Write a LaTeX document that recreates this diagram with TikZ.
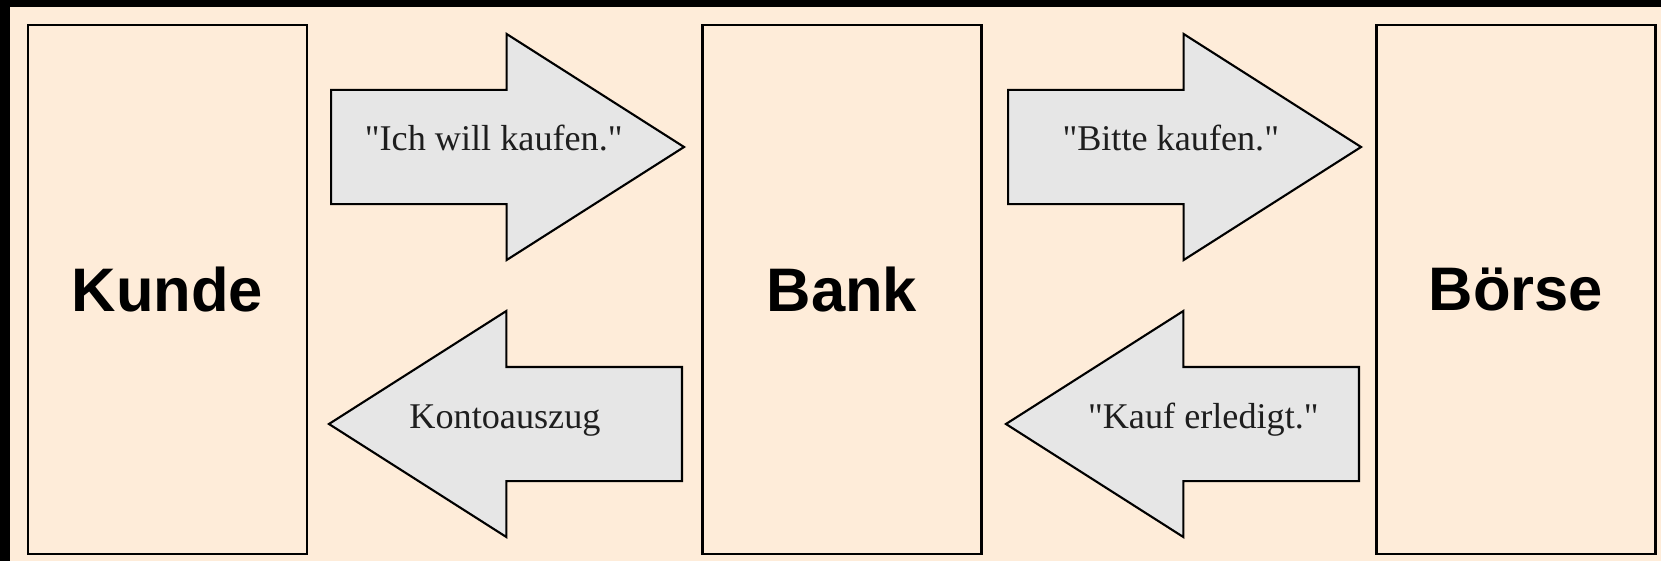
\documentclass[tikz,border=0pt]{standalone}
\usepackage{fontspec}
\setmainfont{Liberation Serif}
\setsansfont{Liberation Sans}
\usetikzlibrary{shapes.arrows,calc}

\definecolor{peach}{HTML}{FEECD9}
\definecolor{msggrey}{HTML}{E6E6E6}
\definecolor{ink}{HTML}{1E1E1E}

\tikzset{
    party/.style={draw, line width=1.2pt, rectangle, fill=peach,
        minimum width=5.58cm, minimum height=10.58cm,
        font=\sffamily\bfseries\fontsize{35}{40}\selectfont},
    msgarrow/.style={draw, line width=1.2pt, fill=msggrey, single arrow,
        single arrow head extend=1.12cm, single arrow tip angle=65,
        minimum height=7.06cm, inner xsep=0pt, inner ysep=1.12cm},
    msgtext/.style={anchor=base, text=ink, font=\fontsize{20.6}{24}\selectfont}
}
\newcommand{\qq}{\textquotedbl}

\begin{document}
\begin{tikzpicture}
    % Background
    \fill[peach] (0,0) rectangle (33.22,11.22);
    \fill[black] (0,11.08) rectangle (33.22,11.22);
    \fill[black] (0,0) rectangle (0.2,11.22);

    % Kunde, Bank, Boerse
    \node[party] (kunde) at (3.35,5.43) {Kunde};
    \node[party] (bank) at (16.84,5.43) {Bank};
    \node[party] (boerse) at (30.32,5.43) {Börse};

    % Messages
    \node[msgarrow, anchor=tail] (wunsch) at (6.6,8.28) {};
    \node[msgtext] (wunschtext) at ($(wunsch.tail)!0.46!(wunsch.tip)+(0,-0.08)$) {\qq Ich will kaufen.\qq};

    \node[msgarrow, anchor=tail] (auftrag) at (20.14,8.28) {};
    \node[msgtext] (auftragtext) at ($(auftrag.tail)!0.46!(auftrag.tip)+(0,-0.08)$) {\qq Bitte kaufen.\qq};

    \node[msgarrow, shape border rotate=180, anchor=tail] (auszug) at (13.66,2.74) {};
    \node[msgtext] (auszugtext) at ($(auszug.tail)!0.5!(auszug.tip)+(0,-0.08)$) {Kontoauszug};

    \node[msgarrow, shape border rotate=180, anchor=tail] (erledigt) at (27.2,2.74) {};
    \node[msgtext] (erledigttext) at ($(erledigt.tail)!0.44!(erledigt.tip)+(0,-0.08)$) {\qq Kauf erledigt.\qq};
\end{tikzpicture}
\end{document}
